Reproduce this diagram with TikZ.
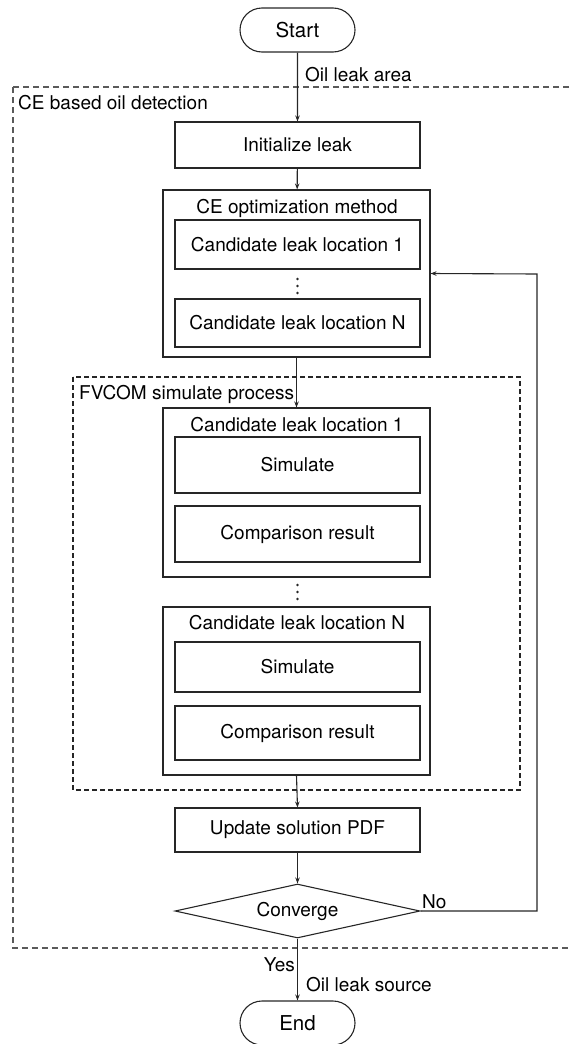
\documentclass[tikz,border=0pt]{standalone}
\usepackage{fontspec}
\setmainfont{TeX Gyre Heros}
\usetikzlibrary{shapes.geometric,shapes.misc,arrows.meta}
\definecolor{ln}{HTML}{262626}
\definecolor{dashgray}{HTML}{5a5a5a}
\tikzset{
  base/.style={draw=ln, line width=1.1pt, inner sep=0pt, font=\fontsize{19}{21}\selectfont, text=black},
  box/.style={base, rectangle},
  term/.style={base, rounded rectangle, minimum width=115pt, minimum height=44pt, font=\fontsize{20.5}{22}\selectfont},
  dec/.style={base, diamond, aspect=4.5},
  lbl/.style={inner sep=0pt, font=\fontsize{19}{21}\selectfont, text=black},
  arr/.style={draw=ln, line width=1.1pt, -{Stealth[length=6pt,width=4.5pt]}},
  region/.style={draw=dashgray, line width=1.1pt, dash pattern=on 6pt off 4pt},
  subregion/.style={draw=ln, line width=1.1pt, dash pattern=on 5pt off 3pt},
  dot/.style={fill=ln, draw=none},
}
\begin{document}
\begin{tikzpicture}[x=1pt,y=-1pt]
\useasboundingbox (0,0) rectangle (571,1044);
\begin{scope}
\clip (0,0) rectangle (571,1044);
% outer dashed region
\draw[region] (13,87) rectangle (590,948);
\node[lbl, anchor=west] (celbl) at (18,103) {CE based oil detection};
% FVCOM region
\draw[subregion] (73,377) rectangle (520,790);
\node[lbl, anchor=west] (fvlbl) at (79,394) {FVCOM simulate process};

\node[term] (start) at (297.5,30) {Start};
\node[box, minimum width=245pt, minimum height=46pt] (init) at (297.5,145) {Initialize leak};

\node[box, minimum width=267pt, minimum height=167pt] (ce) at (296.5,273.5) {};
\node[lbl] (cetitle) at (297,208) {CE optimization method};
\node[box, minimum width=245pt, minimum height=49pt] (c1) at (297.5,244.5) {Candidate leak location 1};
\fill[dot] (297.5,279) circle (1.4) (297.5,286) circle (1.4) (297.5,293) circle (1.4);
\node[box, minimum width=245pt, minimum height=48pt] (cn) at (297.5,323) {Candidate leak location N};

\node[box, minimum width=267pt, minimum height=169pt] (o1) at (296.5,492.5) {};
\node[lbl] (o1title) at (297,425) {Candidate leak location 1};
\node[box, minimum width=245pt, minimum height=56pt] (s1) at (297.5,465) {Simulate};
\node[box, minimum width=245pt, minimum height=56pt] (r1) at (297.5,534) {Comparison result};
\fill[dot] (297.5,585) circle (1.4) (297.5,592) circle (1.4) (297.5,599) circle (1.4);

\node[box, minimum width=267pt, minimum height=168pt] (on) at (296.5,691) {};
\node[lbl] (ontitle) at (297,623) {Candidate leak location N};
\node[box, minimum width=245pt, minimum height=50pt] (sn) at (297.5,667) {Simulate};
\node[box, minimum width=245pt, minimum height=54pt] (rn) at (297.5,733) {Comparison result};

\node[box, minimum width=245pt, minimum height=44pt] (upd) at (297.5,830) {Update solution PDF};
\node[dec, minimum width=245pt, minimum height=54pt] (conv) at (297.5,911) {Converge};
\node[term] (end) at (297.5,1023) {End};

\coordinate (loop) at (537,274);

\draw[arr] (start) -- (init);
\node[lbl, anchor=west] (oilarea) at (305,75) {Oil leak area};
\draw[arr] (init) -- (ce);
\draw[arr] (ce.south) -- (o1.north);
\draw[arr] (on.south) -- (upd.north);
\draw[arr] (upd) -- (conv);
\draw[arr] (conv.south) -- (end.north);
\node[lbl, anchor=east] (yes) at (295,965) {Yes};
\node[lbl, anchor=west] (src) at (306,985) {Oil leak source};
\draw[arr] (conv.east) -| (loop) -- (ce.east);
\node[lbl, anchor=west] (no) at (422,902) {No};
\end{scope}
\end{tikzpicture}
\end{document}
